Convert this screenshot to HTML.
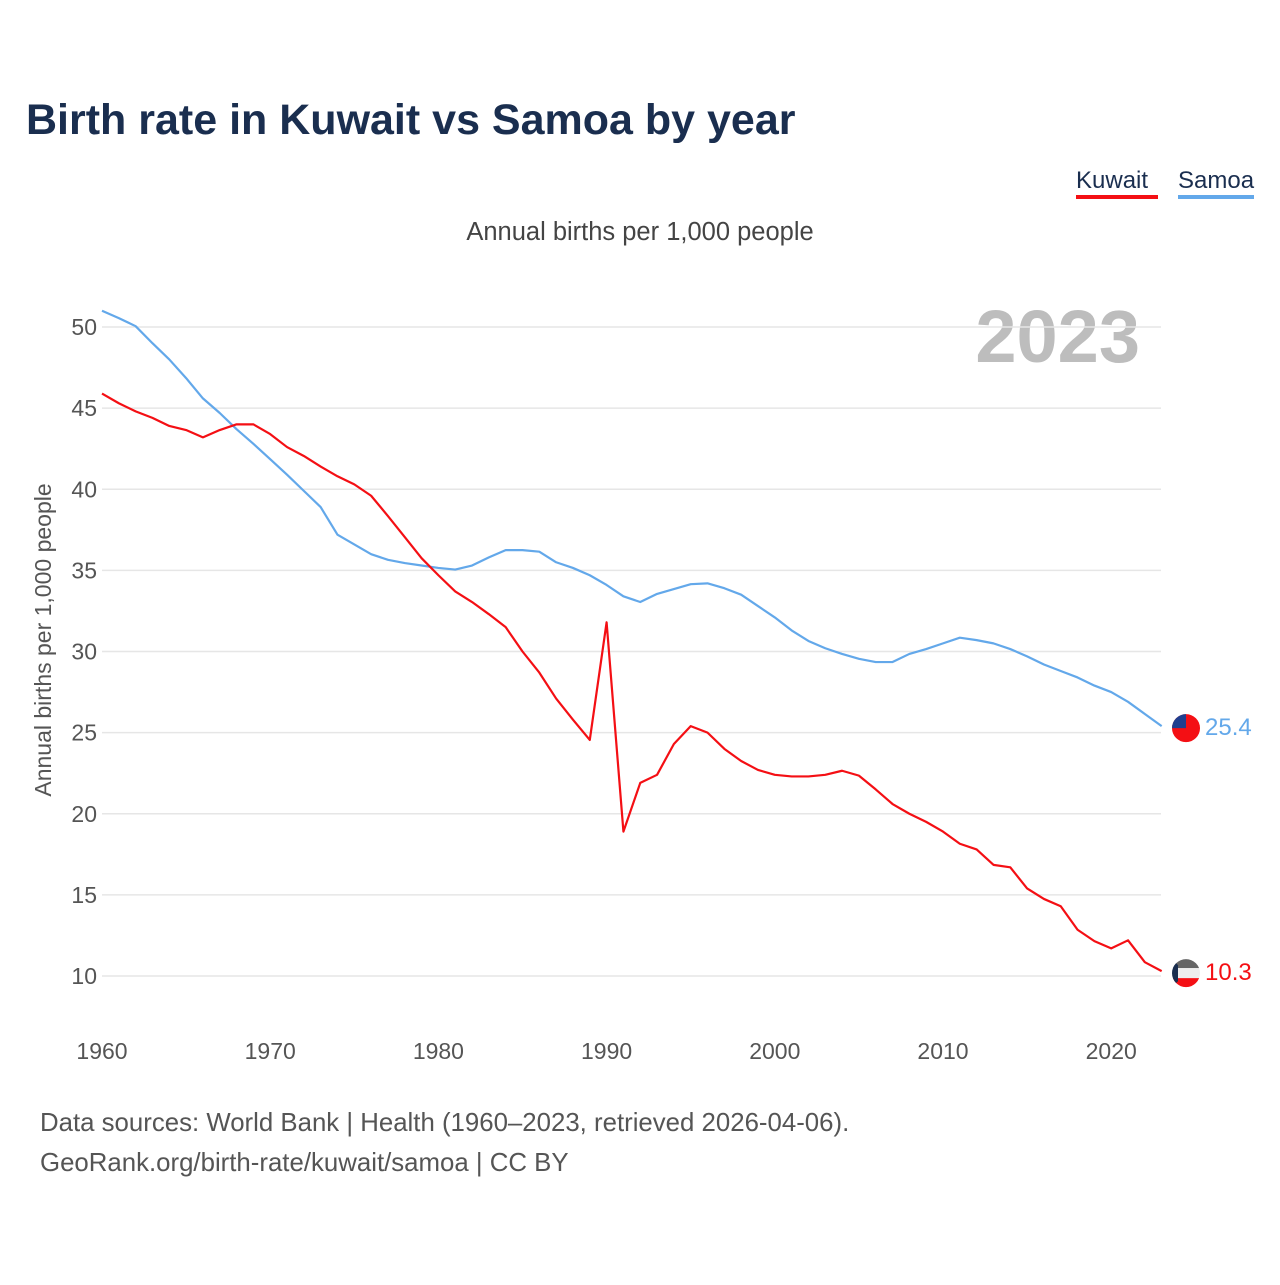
<!DOCTYPE html>
<html><head><meta charset="utf-8"><style>
body{margin:0;background:#fff;font-family:"Liberation Sans",sans-serif}
</style></head><body>
<svg width="1280" height="1280" xmlns="http://www.w3.org/2000/svg" style="font-family:'Liberation Sans',sans-serif">
<defs>
<clipPath id="cs"><circle id="csc" cx="1186" cy="0" r="14"/></clipPath>
<clipPath id="ck"><circle id="ckc" cx="1186" cy="0" r="14"/></clipPath>
</defs>
<rect width="1280" height="1280" fill="#fff"/>
<text x="26" y="134" font-size="43" font-weight="bold" fill="#1a2e4f">Birth rate in Kuwait vs Samoa by year</text>
<g>
<text x="1076" y="188" font-size="24" fill="#1a2e4f">Kuwait</text>
<rect x="1076" y="195" width="82" height="4" fill="#f40f14"/>
<text x="1178" y="188" font-size="24" fill="#1a2e4f">Samoa</text>
<rect x="1178" y="195" width="76" height="4" fill="#63a8ea"/>
</g>
<text x="640" y="240" font-size="25.5" fill="#444" text-anchor="middle">Annual births per 1,000 people</text>
<text x="1140" y="362" font-size="74" font-weight="bold" fill="#bdbdbd" text-anchor="end">2023</text>
<text transform="translate(51,640) rotate(-90)" font-size="23" fill="#555" text-anchor="middle">Annual births per 1,000 people</text>
<g id="grid"></g><g id="yt"></g><g id="xt"></g><g id="lines"></g>
<text x="40" y="1131" font-size="25.8" fill="#555">Data sources: World Bank | Health (1960–2023, retrieved 2026-04-06).</text>
<text x="40" y="1171" font-size="25.8" fill="#555">GeoRank.org/birth-rate/kuwait/samoa | CC BY</text>
</svg>
<script>
const years=[];for(let y=1960;y<=2023;y++)years.push(y);
const kuwait=[45.9,45.3,44.8,44.4,43.9,43.65,43.2,43.65,44.0,44.0,43.4,42.6,42.05,41.4,40.8,40.3,39.6,38.35,37.05,35.75,34.7,33.7,33.05,32.3,31.5,30.0,28.7,27.1,25.8,24.55,31.8,18.9,21.9,22.4,24.3,25.4,25.0,24.0,23.25,22.7,22.4,22.3,22.3,22.4,22.65,22.35,21.5,20.6,20.0,19.5,18.9,18.15,17.8,16.85,16.7,15.4,14.75,14.3,12.85,12.15,11.7,12.2,10.85,10.3];
const samoa=[51.0,50.55,50.05,49.0,48.0,46.85,45.6,44.7,43.7,42.8,41.85,40.9,39.9,38.9,37.2,36.6,36.0,35.65,35.45,35.3,35.15,35.05,35.3,35.8,36.25,36.25,36.15,35.5,35.15,34.7,34.1,33.4,33.05,33.55,33.85,34.15,34.2,33.9,33.5,32.8,32.1,31.3,30.65,30.2,29.85,29.55,29.35,29.35,29.85,30.15,30.5,30.85,30.7,30.5,30.15,29.7,29.2,28.8,28.4,27.9,27.5,26.9,26.15,25.4];
const yTicks=[10,15,20,25,30,35,40,45,50];
const xTicks=[1960,1970,1980,1990,2000,2010,2020];
const NS="http://www.w3.org/2000/svg";
const X=v=>102+(v-1960)*16.82, Y=v=>976-(v-10)*16.225;
function mk(t,a,p){const e=document.createElementNS(NS,t);for(const k in a)e.setAttribute(k,a[k]);p.appendChild(e);return e;}
const g=document.getElementById('grid'),yt=document.getElementById('yt'),xt=document.getElementById('xt'),L=document.getElementById('lines');
yTicks.forEach(v=>{const l=mk('line',{x1:102,x2:1161,y1:Y(v),y2:Y(v),stroke:'#e6e6e6','stroke-width':1.5},g);


const t=mk('text',{x:97,y:Y(v)+8,'font-size':23,fill:'#555','text-anchor':'end'},yt);t.textContent=v;

});
xTicks.forEach(v=>{const t=mk('text',{x:X(v),y:1059,'font-size':23,fill:'#555','text-anchor':'middle'},xt);t.textContent=v;

});
function line(d,c,n,clip){const p=mk('polyline',{points:d.map((v,i)=>X(years[i])+','+Y(v)).join(' '),fill:'none',stroke:c,'stroke-width':2.2,'stroke-linejoin':'round'},L);


const last=d[d.length-1],yy=Y(last);
document.getElementById(clip+'c').setAttribute('cy',yy+2);
const fg=mk('g',{'clip-path':'url(#'+clip+')'},L);


if(n=='samoa'){mk('rect',{x:1170,y:yy-14,width:32,height:32,fill:'#f40f14'},fg);mk('rect',{x:1170,y:yy-14,width:16,height:16,fill:'#1f3f8f'},fg);}
else{mk('rect',{x:1170,y:yy-14,width:32,height:11,fill:'#666'},fg);mk('rect',{x:1170,y:yy-3,width:32,height:10,fill:'#eee'},fg);mk('rect',{x:1170,y:yy+7,width:32,height:12,fill:'#f40f14'},fg);mk('polygon',{points:`1170,${yy-14} 1178,${yy-6} 1178,${yy+10} 1170,${yy+18}`,fill:'#1a2e4f'},fg);}
const t=mk('text',{x:1205,y:yy+9,'font-size':24,fill:c},L);t.textContent=last.toFixed(1);

}
line(samoa,'#63a8ea','samoa','cs');line(kuwait,'#f40f14','kuwait','ck');
</script>
</body></html>
